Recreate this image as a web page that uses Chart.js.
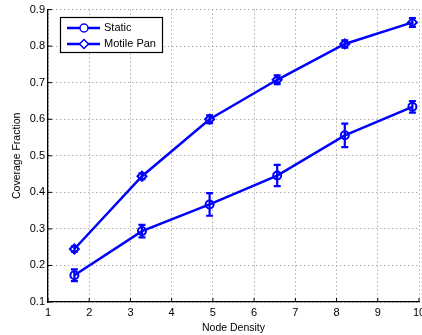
<!DOCTYPE html>
<html>
<head>
<meta charset="utf-8">
<script src="https://cdn.jsdelivr.net/npm/chart.js@4.4.0/dist/chart.umd.min.js"></script>
<style>
  html, body { margin: 0; padding: 0; background: #fff; overflow: hidden; }
  #wrap { width: 432px; height: 335px; }
</style>
</head>
<body>
<div id="wrap"><canvas id="c" width="432" height="335"></canvas></div>
<script>
// node density (x) and coverage fraction means / error half-widths
const nodeDensity = [1.64, 3.28, 4.92, 6.56, 8.20, 9.84];
const staticMean  = [0.173, 0.294, 0.367, 0.446, 0.556, 0.634];
const staticErr   = [0.016, 0.017, 0.031, 0.029, 0.032, 0.016];
const motileMean  = [0.245, 0.444, 0.600, 0.708, 0.806, 0.865];
const motileErr   = [0.007, 0.008, 0.011, 0.012, 0.010, 0.012];
const seriesNames = ['Static', 'Motile Pan'];

const FONT = 'Liberation Sans, Arial, sans-serif';
const BLUE = '#0000ff';

function pts(ys) {
  return nodeDensity.map((x, i) => ({ x: x, y: ys[i] }));
}

// error bars, drawn through the scales
const errorBars = {
  id: 'errorBars',
  afterDatasetsDraw(chart) {
    const { ctx, scales: { x, y } } = chart;
    const errs = [staticErr, motileErr];
    chart.data.datasets.forEach((ds, d) => {
      ctx.save();
      ctx.strokeStyle = ds.borderColor;
      ctx.lineWidth = 2.2;
      ds.data.forEach((p, i) => {
        const px = x.getPixelForValue(p.x);
        const top = y.getPixelForValue(p.y + errs[d][i]);
        const bot = y.getPixelForValue(p.y - errs[d][i]);
        ctx.beginPath();
        ctx.moveTo(px, top); ctx.lineTo(px, bot);
        ctx.moveTo(px - 3.5, top); ctx.lineTo(px + 3.5, top);
        ctx.moveTo(px - 3.5, bot); ctx.lineTo(px + 3.5, bot);
        ctx.stroke();
      });
      ctx.restore();
    });
  }
};

// inward tick marks + matlab style legend box
const decor = {
  id: 'decor',
  afterDraw(chart) {
    const { ctx, chartArea: a, scales: { x, y } } = chart;
    ctx.save();
    ctx.strokeStyle = '#000';
    ctx.lineWidth = 1;
    ctx.beginPath();
    x.ticks.forEach(t => {
      const px = x.getPixelForValue(t.value);
      ctx.moveTo(px, a.bottom); ctx.lineTo(px, a.bottom - 4);
    });
    y.ticks.forEach(t => {
      const py = y.getPixelForValue(t.value);
      ctx.moveTo(a.left, py); ctx.lineTo(a.left + 4, py);
    });
    ctx.stroke();

    // legend
    const bx = 60.5, by = 17.5, bw = 102, bh = 35;
    ctx.fillStyle = '#fff';
    ctx.fillRect(bx, by, bw, bh);
    ctx.lineWidth = 1.2;
    ctx.strokeRect(bx, by, bw, bh);
    ctx.font = '11px ' + FONT;
    ctx.textBaseline = 'middle';
    chart.data.datasets.forEach((ds, i) => {
      const ry = 28 + i * 16;
      ctx.strokeStyle = ds.borderColor;
      ctx.lineWidth = 2.5;
      ctx.beginPath();
      ctx.moveTo(67, ry); ctx.lineTo(100, ry);
      ctx.stroke();
      ctx.lineWidth = 1.5;
      ctx.beginPath();
      if (ds.pointStyle === 'rectRot') {
        ctx.moveTo(84, ry - 4.5); ctx.lineTo(88.5, ry);
        ctx.lineTo(84, ry + 4.5); ctx.lineTo(79.5, ry);
        ctx.closePath();
        ctx.fillStyle = '#fff';
        ctx.fill();
      } else {
        ctx.arc(84, ry, 4, 0, Math.PI * 2);
        ctx.fillStyle = '#fff';
        ctx.fill();
      }
      ctx.stroke();
      ctx.fillStyle = '#000';
      ctx.fillText(ds.label, 104, ry);
    });
    ctx.restore();
  }
};

new Chart(document.getElementById('c'), {
  type: 'line',
  data: {
    datasets: [
      {
        label: seriesNames[0], data: pts(staticMean),
        borderColor: BLUE, borderWidth: 2.5, pointStyle: 'circle',
        pointRadius: 4, pointBorderWidth: 2,
        pointBackgroundColor: 'rgba(0,0,0,0)', pointBorderColor: BLUE
      },
      {
        label: seriesNames[1], data: pts(motileMean),
        borderColor: BLUE, borderWidth: 2.5, pointStyle: 'rectRot',
        pointRadius: 4.5, pointBorderWidth: 2,
        pointBackgroundColor: 'rgba(0,0,0,0)', pointBorderColor: BLUE
      }
    ]
  },
  options: {
    responsive: false,
    animation: false,
    layout: { padding: { top: 9, right: 13, bottom: 0, left: 0 } },
    plugins: { legend: { display: false }, tooltip: { enabled: false } },
    scales: {
      x: {
        type: 'linear', min: 1, max: 10,
        ticks: { stepSize: 1, color: '#000', padding: 4, maxRotation: 0,
                 font: { family: FONT, size: 11 } },
        grid: { color: '#888', drawTicks: false, lineWidth: 1 },
        border: { color: '#000', width: 1.3, dash: [1, 3] },
        title: { display: true, text: 'Node Density', color: '#000',
                 font: { family: FONT, size: 10.5 }, padding: { top: 0, bottom: 1 } },
        afterFit(s) { s.height = 33; }
      },
      y: {
        min: 0.1, max: 0.9,
        ticks: { stepSize: 0.1, color: '#000', padding: 3,
                 font: { family: FONT, size: 11 },
                 callback: v => v.toFixed(1) },
        grid: { color: '#888', drawTicks: false, lineWidth: 1 },
        border: { color: '#000', width: 1.3, dash: [1, 3] },
        title: { display: true, text: 'Coverage Fraction', color: '#000',
                 font: { family: FONT, size: 10.5 }, padding: { top: 11, bottom: 0 } },
        afterFit(s) { s.width = 48; }
      }
    }
  },
  plugins: [errorBars, decor]
});
</script>
</body>
</html>
